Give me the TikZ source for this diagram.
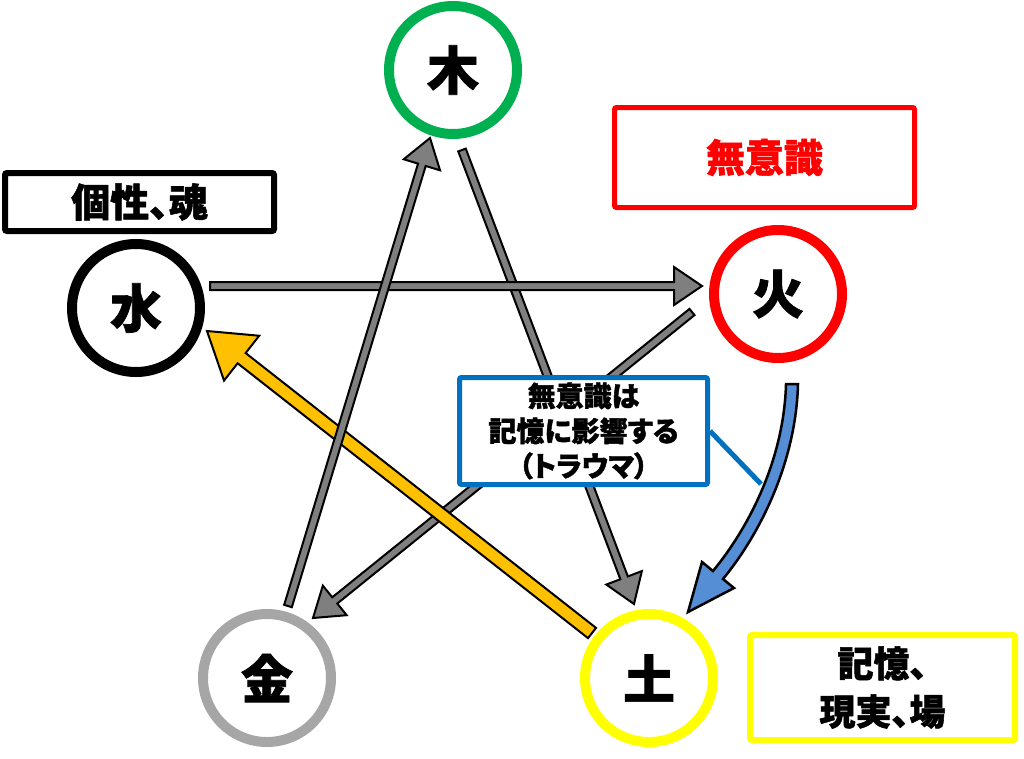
\documentclass[tikz,border=0pt]{standalone}
\usepackage{fontspec}
\newfontfamily\jp{Noto Sans CJK JP}[RawFeature=+palt, BoldFeatures={FakeBold=1.4}]
\usetikzlibrary{calc}
\definecolor{cgreen}{HTML}{00B050}
\definecolor{cred}{HTML}{FF0000}
\definecolor{cyellow}{HTML}{FFFF00}
\definecolor{cgraycirc}{HTML}{A6A6A6}
\definecolor{carrow}{HTML}{7F7F7F}
\definecolor{corange}{HTML}{FFC000}
\definecolor{cblue}{HTML}{0070C0}
\definecolor{cbluearrow}{HTML}{558ED5}
\newcommand\blockarr[6]{%
  \path ($(#2)!#5!(#1)$) coordinate (bh);
  \draw[#6] ($(#1)!#3!90:(#2)$) -- ($(bh)!#3!-90:(#1)$) -- ($(bh)!#4!-90:(#1)$) -- (#2)
    -- ($(bh)!#4!90:(#1)$) -- ($(bh)!#3!90:(#1)$) -- ($(#1)!#3!-90:(#2)$) -- cycle;
}
\begin{document}
\begin{tikzpicture}[x=1pt,y=-1pt,
  elem/.style={circle, draw, line width=10pt, minimum size=128pt, inner sep=0pt, fill=white,
    font=\jp\bfseries\fontsize{52}{52}\selectfont},
  labelbox/.style={draw, rounded corners=2pt, fill=white, inner sep=0pt, align=center},
  grayarrow/.style={fill=carrow, draw=black, line width=2pt, line join=miter},
  orangearrow/.style={fill=corange, draw=black, line width=2pt, line join=miter},
  bluearrow/.style={fill=cbluearrow, draw=black, line width=2.5pt, line join=miter}]
\useasboundingbox[fill=white] (0,0) rectangle (1024,758);

% elements
\node[elem, draw=cgreen] (moku) at (453,70) {木};
\node[elem, draw=cred] (ka) at (778,294) {火};
\node[elem, draw=black] (sui) at (136,308) {水};
\node[elem, draw=cgraycirc] (kin) at (267,678) {金};
\node[elem, draw=cyellow] (do) at (649,678) {土};

% label boxes
\node[labelbox, draw=black, line width=6pt, minimum width=269pt, minimum height=58pt,
  font=\jp\bfseries\fontsize{39}{39}\selectfont] (kosei) at (139.5,202) {個性、魂};
\node[labelbox, draw=cred, line width=5pt, minimum width=300pt, minimum height=100pt,
  text=cred, font=\jp\bfseries\fontsize{39}{39}\selectfont] (muishiki) at (764.5,157.5) {無意識};
\node[labelbox, draw=cyellow, line width=6pt, minimum width=265pt, minimum height=105pt,
  font=\jp\bfseries\fontsize{36}{48}\selectfont] (kioku) at (882.5,687.5) {記憶、\\現実、場};

% arrow end points
\coordinate (m2d-s) at (462,150);
\coordinate (m2d-e) at (634,604);
\coordinate (k2k-s) at (692,312);
\coordinate (k2k-e) at (313,618);
\coordinate (d2s-s) at (592,633);
\coordinate (d2s-e) at (207,331);
\coordinate (s2k-s) at (210,286);
\coordinate (s2k-e) at (702,286);
\coordinate (k2m-s) at (288,606);
\coordinate (k2m-e) at (430,138);

\blockarr{m2d-s}{m2d-e}{4pt}{19pt}{28pt}{grayarrow}
\blockarr{k2k-s}{k2k-e}{4pt}{19pt}{28pt}{grayarrow}
\blockarr{d2s-s}{d2s-e}{6.5pt}{28.5pt}{44pt}{orangearrow}
\blockarr{s2k-s}{s2k-e}{4pt}{19pt}{28pt}{grayarrow}
\blockarr{k2m-s}{k2m-e}{4pt}{19pt}{28pt}{grayarrow}

% explanation box
\node[labelbox, draw=cblue, line width=5pt, minimum width=248pt, minimum height=107pt,
  font=\jp\bfseries\fontsize{28}{35}\selectfont] (trauma) at (583.5,431) {無意識は\\記憶に影響する\\（トラウマ）};
\coordinate (callout) at (761,484);
\draw[cblue, line width=5pt] (trauma.east) -- (callout);

% curved arrow fire -> earth
\draw[bluearrow] (786,384) -- (798,384) .. controls (796,462) and (760,534) .. (723,579)
  -- (734,588) -- (688,612) -- (702,562) -- (713,571)
  .. controls (750,526) and (784,458) .. (786,384) -- cycle;
\end{tikzpicture}
\end{document}
